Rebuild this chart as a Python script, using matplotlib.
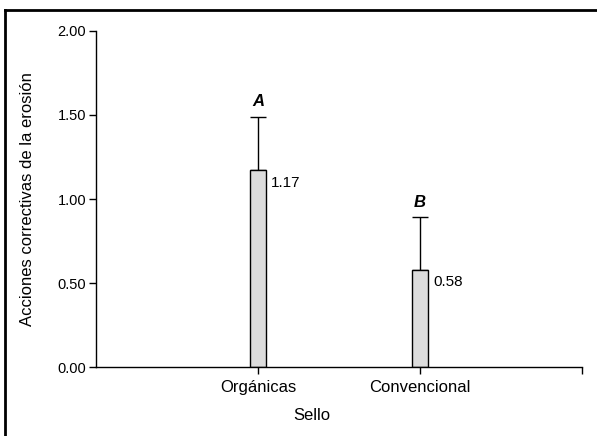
import matplotlib
matplotlib.use("Agg")
import matplotlib.pyplot as plt
from matplotlib.lines import Line2D

plt.rcParams['font.family'] = ['Liberation Sans', 'DejaVu Sans']

categories = ['Orgánicas', 'Convencional']
means = [1.17, 0.58]
errors = [0.32, 0.31]
letters = ['A', 'B']
y_ticks = [0.0, 0.5, 1.0, 1.5, 2.0]

W, H = 597, 436
fig = plt.figure(figsize=(W / 100, H / 100), dpi=100)
ax = fig.add_axes([96 / W, 1 - 367 / H, (582 - 96) / W, (367 - 31) / H])

x = [1, 2]
ax.bar(x, means, width=0.094, color='#dcdcdc', edgecolor='black', linewidth=1.0, zorder=2)
ax.errorbar(x, means, yerr=[[0, 0], errors], fmt='none', ecolor='black',
            elinewidth=1.0, capsize=5.8, capthick=1.0, zorder=1)

for xi, m, e, lt in zip(x, means, errors, letters):
    ax.annotate(lt, (xi, m + e), xytext=(0, 11), textcoords='offset points',
                ha='center', va='center', fontsize=12, fontweight='bold', fontstyle='italic')
    ax.annotate(f'{m:.2f}', (xi + 0.047, m), xytext=(4, -9), textcoords='offset points',
                ha='left', va='center', fontsize=11)

ax.set_xlim(0, 3)
ax.set_ylim(0, 2)
ax.set_yticks(y_ticks)
ax.set_yticklabels([f'{v:.2f}' for v in y_ticks], fontsize=10.5)
ax.set_xticks([1, 2, 3])
ax.set_xticklabels(categories + [''], fontsize=12)
ax.tick_params(axis='both', direction='out', length=5, width=1.0, color='black', pad=2)
ax.tick_params(axis='x', pad=4)

for s in ['top', 'right']:
    ax.spines[s].set_visible(False)
for s in ['left', 'bottom']:
    ax.spines[s].set_linewidth(1.0)

ax.set_ylabel('Acciones correctivas de la erosión', fontsize=12)
ax.yaxis.set_label_coords((35 - 96) / (582 - 96), 0.5)
fig.text(312 / W, 1 - 415 / H, 'Sello', ha='center', va='center', fontsize=12)

# outer frame (top and left edges)
fig.add_artist(Line2D([5 / W, 1], [1 - 10 / H, 1 - 10 / H], color='black', linewidth=2.0))
fig.add_artist(Line2D([5 / W, 5 / W], [0, 1 - 10 / H], color='black', linewidth=2.0))

fig.savefig('out.png', dpi=100)
